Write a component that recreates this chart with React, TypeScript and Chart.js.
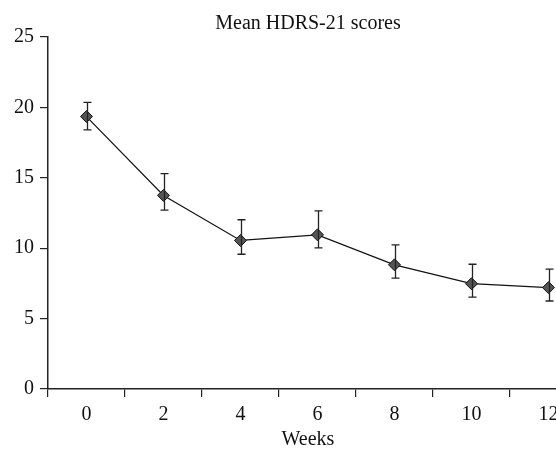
import React, { useEffect, useRef } from "react";
import { Chart, registerables } from "chart.js";

Chart.register(...registerables);

const weeks = ["0", "2", "4", "6", "8", "10", "12"];
const meanScores = [19.35, 13.75, 10.55, 10.95, 8.82, 7.48, 7.2];
const errUpper = [20.35, 15.3, 12.02, 12.65, 10.24, 8.86, 8.52];
const errLower = [18.4, 12.7, 9.57, 10.03, 7.88, 6.53, 6.25];
const yTicks = [0, 5, 10, 15, 20, 25];
const chartTitle = "Mean HDRS-21 scores";
const xTitle = "Weeks";

const FONT = "'Liberation Serif', 'DejaVu Serif', serif";

const errorBarPlugin = {
  id: "errorBars",
  afterDatasetsDraw(chart: any) {
    const { ctx, scales } = chart;
    const x = scales.x;
    const y = scales.y;
    ctx.save();
    ctx.strokeStyle = "#222";
    ctx.lineWidth = 1.3;
    weeks.forEach((_, i) => {
      const px = Math.round(x.getPixelForValue(i)) + 0.5;
      const top = y.getPixelForValue(errUpper[i]);
      const bot = y.getPixelForValue(errLower[i]);
      ctx.beginPath();
      ctx.moveTo(px, top);
      ctx.lineTo(px, bot);
      ctx.moveTo(px - 4, top);
      ctx.lineTo(px + 4, top);
      ctx.moveTo(px - 4, bot);
      ctx.lineTo(px + 4, bot);
      ctx.stroke();
    });
    ctx.restore();
  },
  afterDraw(chart: any) {
    const { ctx, chartArea } = chart;
    ctx.save();
    ctx.fillStyle = "#111";
    ctx.font = `20px ${FONT}`;
    ctx.textAlign = "center";
    ctx.textBaseline = "middle";
    ctx.fillText(chartTitle, chartArea.left + 260, 24);
    ctx.fillText(xTitle, chartArea.left + 260, 440);
    ctx.restore();
  },
};

export default function App() {
  const ref = useRef<HTMLCanvasElement>(null);
  useEffect(() => {
    if (!ref.current) return;
    const chart = new Chart(ref.current, {
      type: "line",
      data: {
        labels: weeks,
        datasets: [
          {
            data: meanScores,
            borderColor: "#111",
            borderWidth: 1.2,
            pointStyle: "rectRot",
            pointRadius: 6,
            pointBackgroundColor: "#555",
            pointBorderColor: "#111",
            pointBorderWidth: 1,
            tension: 0,
            fill: false,
          },
        ],
      },
      options: {
        responsive: false,
        animation: false,
        layout: { padding: { top: 37, right: 33, left: 0, bottom: 19 } },
        plugins: {
          legend: { display: false },
          title: { display: false },
          tooltip: { enabled: false },
        },
        scales: {
          x: {
            offset: true,
            grid: {
              offset: true,
              drawOnChartArea: false,
              drawTicks: true,
              tickLength: 8,
              color: "#222",
              lineWidth: 1.2,
            },
            border: { display: true, color: "#222", width: 1.5 },
            ticks: {
              color: "#111",
              font: { family: FONT, size: 20 },
              padding: 6,
              maxRotation: 0,
            },
          },
          y: {
            min: 0,
            max: 25,
            afterBuildTicks: (scale: any) => {
              scale.ticks = yTicks.map((v) => ({ value: v }));
            },
            afterFit: (scale: any) => {
              scale.width = 48;
            },
            grid: {
              drawOnChartArea: false,
              drawTicks: true,
              tickLength: 8,
              color: "#222",
              lineWidth: 1.2,
            },
            border: { display: true, color: "#222", width: 1.5 },
            ticks: {
              color: "#111",
              font: { family: FONT, size: 20 },
              padding: 6,
            },
          },
        },
      },
      plugins: [errorBarPlugin],
    });
    return () => chart.destroy();
  }, []);
  return (
    <div
      style={{
        position: "absolute",
        left: 0,
        top: 0,
        width: 556,
        height: 452,
        overflow: "hidden",
        background: "#fff",
      }}
    >
      <canvas ref={ref} width={620} height={452} style={{ display: "block" }} />
    </div>
  );
}
